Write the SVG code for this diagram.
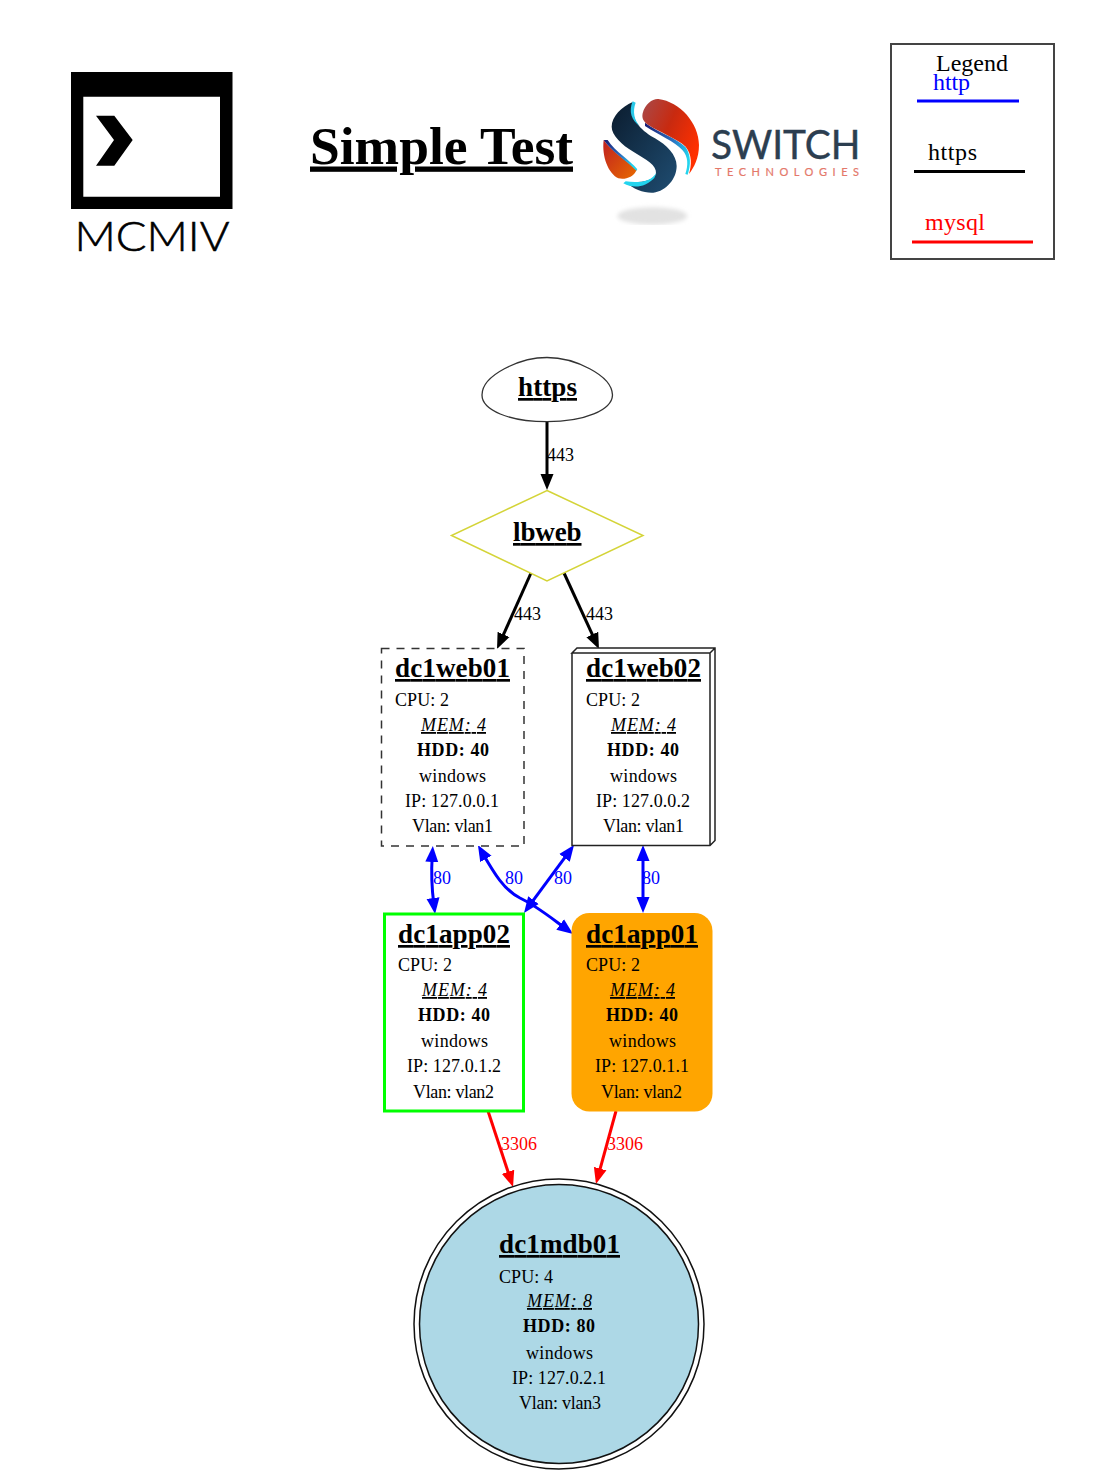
<svg xmlns="http://www.w3.org/2000/svg" width="1096" height="1484" viewBox="0 0 1096 1484">
<style>
text{font-family:"Liberation Serif","Times New Roman",serif;fill:#000;text-decoration-skip-ink:none}
.name{font-size:27px;font-weight:bold;text-decoration:underline;text-decoration-thickness:2.5px;text-underline-offset:3px}
.b{font-size:18px}
.c{text-anchor:middle}
.mem{font-size:18px;font-style:italic;text-decoration:underline;text-decoration-thickness:1.5px;text-underline-offset:1.5px}
.hdd{font-size:18px;font-weight:bold}
.leg{font-size:24px}
.title{font-size:53px;font-weight:bold;text-decoration:underline;text-decoration-thickness:3.5px;text-underline-offset:6px}
.e{fill:none;stroke-width:3}
.k{stroke:#000}.bl{stroke:#00f}.r{stroke:#f00}
.lb{font-size:18px;fill:#000}.lbb{font-size:18px;fill:#00f}.lbr{font-size:18px;fill:#f00}
</style>
<defs>
<marker id="ak" markerUnits="userSpaceOnUse" markerWidth="16" markerHeight="14" refX="6" refY="7" orient="auto-start-reverse"><path d="M0 .5L16 7L0 13.500z" fill="#000"/></marker>
<marker id="ab" markerUnits="userSpaceOnUse" markerWidth="16" markerHeight="14" refX="6" refY="7" orient="auto-start-reverse"><path d="M0 .5L16 7L0 13.500z" fill="#00f"/></marker>
<marker id="ar" markerUnits="userSpaceOnUse" markerWidth="16" markerHeight="14" refX="6" refY="7" orient="auto-start-reverse"><path d="M0 .5L16 7L0 13.500z" fill="#f00"/></marker>
<linearGradient id="g1" x1="0" y1="0" x2="1" y2="0.6"><stop offset="0" stop-color="#a84a4a"/><stop offset="0.5" stop-color="#c82a10"/><stop offset="1" stop-color="#ff3000"/></linearGradient>
<linearGradient id="g2" x1="0" y1="0" x2="1" y2="1"><stop offset="0" stop-color="#0b1c2e"/><stop offset="1" stop-color="#1f4d72"/></linearGradient>
<linearGradient id="g3" x1="0" y1="0" x2="1" y2="1"><stop offset="0" stop-color="#c02020"/><stop offset="1" stop-color="#e86a00"/></linearGradient>
<linearGradient id="g4" x1="0" y1="0" x2="1" y2="0.6"><stop offset="0" stop-color="#1a1a70"/><stop offset="0.6" stop-color="#2a70c0"/><stop offset="1" stop-color="#22d4ee"/></linearGradient>
<filter id="blur" x="-20%" y="-40%" width="140%" height="180%"><feGaussianBlur stdDeviation="7"/></filter>
<clipPath id="sc"><rect x="0" y="320" width="360" height="85"/></clipPath>
</defs>
<rect width="1096" height="1484" fill="#fff"/>

<g id="logo-mcmiv">
<path fill-rule="evenodd" d="M71 72H232.500V209H71zM83.300 96.700V196.700H220V96.700z"/>
<path d="M96 115.700H114.300L132.700 140L114.300 165.700H96L114 140z"/>
<text x="74.500" y="250.500" font-size="42" textLength="155" lengthAdjust="spacingAndGlyphs" style="font-family:Lato,'Liberation Sans',sans-serif;font-weight:300;stroke:#000;stroke-width:.6">MCMIV</text>
</g>

<g id="title"><text class="title" x="310" y="163.500" textLength="263" lengthAdjust="spacingAndGlyphs">Simple Test</text></g>

<g id="logo-switch">
<g transform="translate(595 90) scale(.3333)">
<g clip-path="url(#sc)"><ellipse cx="172" cy="378" rx="105" ry="26" fill="#e2e2e2" filter="url(#blur)"/></g>
<path d="M150 98C190 128 245 143 272 172C288 195 288 225 278 254L271 252C280 225 280 200 262 180C240 155 190 135 150 108z" fill="url(#g4)"/>
<path d="M143 70C150 40 175 25 190 27C255 35 312 100 312 165C312 205 297 232 282 252C290 225 292 195 272 170C245 145 190 125 160 105C145 95 140 85 143 70Z" fill="url(#g1)"/>
<path d="M113 36C80 50 50 80 50 110C50 135 80 165 115 185C155 210 185 225 183 250C178 272 140 280 92 276C115 298 150 310 175 308C215 303 245 265 245 228C245 195 215 165 180 145C145 125 105 95 113 36Z" fill="url(#g2)"/>
<path d="M113 34L122 38C112 65 118 90 134 108C110 92 100 65 113 34z" fill="#28c8e8"/>
<path d="M85 280C115 296 150 293 178 264L184 248C170 275 130 280 92 274Z" fill="#22d4ee"/>
<path d="M26 150C50 185 95 210 125 240C115 262 90 270 70 265C40 250 20 200 26 150Z" fill="url(#g3)"/>
<path d="M26 150L38 150C60 185 105 210 127 238L124 242C95 212 50 185 26 150z" fill="url(#g4)"/>
</g>
<text x="711" y="158.500" font-size="40" textLength="149.500" lengthAdjust="spacingAndGlyphs" style="font-family:Lato,'Liberation Sans',sans-serif;fill:#2c3e50;stroke:#2c3e50;stroke-width:.4">SWITCH</text>
<text x="715" y="176" font-size="11" textLength="144" style="font-family:Lato,'Liberation Sans',sans-serif;fill:#e4786a;stroke:#e4786a;stroke-width:.2">TECHNOLOGIES</text>
</g>

<g id="legend">
<rect x="891" y="44" width="163" height="215" fill="#fff" stroke="#444" stroke-width="2"/>
<text class="leg" x="936" y="71" textLength="72">Legend</text>
<text class="leg" x="933" y="90" textLength="37" style="fill:#00f">http</text>
<line x1="917" y1="101" x2="1019" y2="101" stroke="#00f" stroke-width="3"/>
<text class="leg" x="928" y="160" textLength="49">https</text>
<line x1="914" y1="171.500" x2="1025" y2="171.500" stroke="#000" stroke-width="3"/>
<text class="leg" x="925" y="230" textLength="60" style="fill:#f00">mysql</text>
<line x1="912" y1="242" x2="1033" y2="242" stroke="#f00" stroke-width="3"/>
</g>

<g id="connectors">
<path class="e k" d="M547 422V480" marker-end="url(#ak)"/>
<path class="e k" d="M531 573L501.100 639.900" marker-end="url(#ak)"/>
<path class="e k" d="M564 573L594.800 639.900" marker-end="url(#ak)"/>
<path class="e bl" d="M432.200 856C431 875 432 890 433.800 904" marker-start="url(#ab)" marker-end="url(#ab)"/>
<path class="e bl" d="M482.900 853.700C494 873 504 890 520 898C535 905 550 917 565 928" marker-start="url(#ab)" marker-end="url(#ab)"/>
<path class="e bl" d="M568.100 853.100L529.900 904.900" marker-start="url(#ab)" marker-end="url(#ab)"/>
<path class="e bl" d="M643 855V903" marker-start="url(#ab)" marker-end="url(#ab)"/>
<path class="e r" d="M488 1111L509.900 1177.500" marker-end="url(#ar)"/>
<path class="e r" d="M616 1111L598.600 1174.400" marker-end="url(#ar)"/>
<text class="lb" x="547" y="461">443</text>
<text class="lb" x="514" y="620">443</text>
<text class="lb" x="586" y="620">443</text>
<text class="lbb" x="433" y="884">80</text>
<text class="lbb" x="505" y="884">80</text>
<text class="lbb" x="554" y="884">80</text>
<text class="lbb" x="642" y="884">80</text>
<text class="lbr" x="501" y="1150">3306</text>
<text class="lbr" x="607" y="1150">3306</text>
</g>

<g id="https">
<path d="M482 395C482 375 520 357.500 547 357.500C574 357.500 612 375 612.500 395C612 410 585 421.700 547 421.700C509 421.700 482 410 482 395Z" fill="#fff" stroke="#333" stroke-width="1.300"/>
<text class="name" x="518" y="396" textLength="59">https</text>
</g>

<g id="lbweb">
<path d="M547 490.500L643 535.500L547 581L451.500 535.500Z" fill="#fff" stroke="#d4d438" stroke-width="1.500"/>
<text class="name" x="513" y="541" textLength="68.500">lbweb</text>
</g>

<g id="dc1web01">
<rect x="381.500" y="648.500" width="142.500" height="197.500" fill="#fff" stroke="#333" stroke-width="1.500" stroke-dasharray="8 7"/>
<text class="name" x="395" y="677" textLength="115">dc1web01</text>
<text class="b" x="395" y="706" textLength="54">CPU: 2</text>
<text class="mem" x="421" y="731" textLength="65">MEM: 4</text>
<text class="hdd" x="417" y="756" textLength="72">HDD: 40</text>
<text class="b" x="419" y="782" textLength="67">windows</text>
<text class="b" x="405" y="807" textLength="94">IP: 127.0.0.1</text>
<text class="b" x="412" y="832" textLength="81">Vlan: vlan1</text>
</g>

<g id="dc1web02">
<path d="M572 653V845.500H710L715 840.500V648H577L572 653H710V845.500M710 653L715 648" fill="#fff" stroke="#222" stroke-width="1.500"/>
<text class="name" x="586" y="677" textLength="115">dc1web02</text>
<text class="b" x="586" y="706" textLength="54">CPU: 2</text>
<text class="mem" x="611" y="731" textLength="65">MEM: 4</text>
<text class="hdd" x="607" y="756" textLength="72">HDD: 40</text>
<text class="b" x="610" y="782" textLength="67">windows</text>
<text class="b" x="596" y="807" textLength="94">IP: 127.0.0.2</text>
<text class="b" x="603" y="832" textLength="81">Vlan: vlan1</text>
</g>

<g id="dc1app02">
<rect x="384.500" y="914" width="139" height="197" fill="#fff" stroke="#0f0" stroke-width="3"/>
<text class="name" x="398" y="943" textLength="112">dc1app02</text>
<text class="b" x="398" y="971" textLength="54">CPU: 2</text>
<text class="mem" x="422" y="996" textLength="65">MEM: 4</text>
<text class="hdd" x="418" y="1021" textLength="72">HDD: 40</text>
<text class="b" x="421" y="1047" textLength="67">windows</text>
<text class="b" x="407" y="1072" textLength="94">IP: 127.0.1.2</text>
<text class="b" x="413" y="1098" textLength="81">Vlan: vlan2</text>
</g>

<g id="dc1app01">
<rect x="571.500" y="913" width="141" height="198.500" rx="18" fill="#ffa500"/>
<text class="name" x="586" y="943" textLength="112">dc1app01</text>
<text class="b" x="586" y="971" textLength="54">CPU: 2</text>
<text class="mem" x="610" y="996" textLength="65">MEM: 4</text>
<text class="hdd" x="606" y="1021" textLength="72">HDD: 40</text>
<text class="b" x="609" y="1047" textLength="67">windows</text>
<text class="b" x="595" y="1072" textLength="94">IP: 127.0.1.1</text>
<text class="b" x="601" y="1098" textLength="81">Vlan: vlan2</text>
</g>

<g id="dc1mdb01">
<circle cx="559" cy="1324" r="145" fill="#fff" stroke="#111" stroke-width="1.500"/>
<circle cx="559" cy="1324" r="139.500" fill="#add8e6" stroke="#111" stroke-width="1.500"/>
<text class="name" x="499" y="1253" textLength="121">dc1mdb01</text>
<text class="b" x="499" y="1283" textLength="54">CPU: 4</text>
<text class="mem" x="527" y="1307" textLength="65">MEM: 8</text>
<text class="hdd" x="523" y="1332" textLength="72">HDD: 80</text>
<text class="b" x="526" y="1359" textLength="67">windows</text>
<text class="b" x="512" y="1384" textLength="94">IP: 127.0.2.1</text>
<text class="b" x="519" y="1409" textLength="82">Vlan: vlan3</text>
</g>
</svg>
